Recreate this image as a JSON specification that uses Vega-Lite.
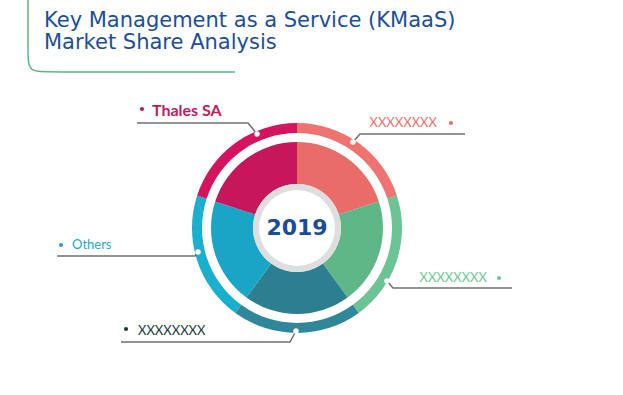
{
  "$schema": "https://vega.github.io/schema/vega-lite/v6.json",
  "width": 594,
  "height": 334,
  "autosize": "none",
  "padding": {"left": 0, "top": 61, "right": 29, "bottom": 0},
  "background": "white",
  "config": {"view": {"stroke": null}},
  "datasets": {
    "shares": [
      {"idx": 1, "segment": "Company 1", "share": 20},
      {"idx": 2, "segment": "Company 2", "share": 20},
      {"idx": 3, "segment": "Company 3", "share": 20},
      {"idx": 4, "segment": "Others", "share": 20},
      {"idx": 5, "segment": "Thales SA", "share": 20}
    ],
    "leaders": [
      {"segment": "Thales SA", "ord": 1, "x": -160, "y": -105},
      {"segment": "Thales SA", "ord": 2, "x": -49, "y": -105},
      {"segment": "Thales SA", "ord": 3, "x": -40, "y": -94},
      {"segment": "Company 1", "ord": 1, "x": 56, "y": -86},
      {"segment": "Company 1", "ord": 2, "x": 63, "y": -94},
      {"segment": "Company 1", "ord": 3, "x": 168, "y": -94},
      {"segment": "Company 2", "ord": 1, "x": 90, "y": 53},
      {"segment": "Company 2", "ord": 2, "x": 96, "y": 60},
      {"segment": "Company 2", "ord": 3, "x": 215, "y": 60},
      {"segment": "Company 3", "ord": 1, "x": -176, "y": 114},
      {"segment": "Company 3", "ord": 2, "x": -7, "y": 114},
      {"segment": "Company 3", "ord": 3, "x": -1, "y": 103},
      {"segment": "Others", "ord": 1, "x": -240, "y": 28},
      {"segment": "Others", "ord": 2, "x": -102, "y": 28},
      {"segment": "Others", "ord": 3, "x": -99, "y": 24}
    ],
    "ringDots": [
      {"segment": "Thales SA", "x": -40, "y": -94},
      {"segment": "Company 1", "x": 56, "y": -86},
      {"segment": "Company 2", "x": 90, "y": 53},
      {"segment": "Company 3", "x": -1, "y": 103},
      {"segment": "Others", "x": -99, "y": 24}
    ],
    "labels": [
      {"segment": "Thales SA", "text": "Thales SA", "side": "left", "bx": -155, "by": -119, "x": -145, "y": -112},
      {"segment": "Company 1", "text": "XXXXXXXX", "side": "right", "bx": 154, "by": -105, "x": 140, "y": -101},
      {"segment": "Company 2", "text": "XXXXXXXX", "side": "right", "bx": 202, "by": 50, "x": 190, "y": 54},
      {"segment": "Company 3", "text": "XXXXXXXX", "side": "left", "bx": -171, "by": 101, "x": -159, "y": 107},
      {"segment": "Others", "text": "Others", "side": "left", "bx": -236, "by": 17, "x": -225, "y": 21}
    ],
    "frameLine": [
      {"ord": 1, "x": -269, "y": -228},
      {"ord": 2, "x": -269, "y": -176},
      {"ord": 3, "x": -269, "y": -156},
      {"ord": 4, "x": -249, "y": -156},
      {"ord": 5, "x": -62, "y": -156}
    ]
  },
  "resolve": {"scale": {"color": "independent"}},
  "layer": [
    {
      "data": {"name": "frameLine"},
      "mark": {"type": "line", "interpolate": "basis", "color": "#5cb887", "strokeWidth": 1.5},
      "encoding": {
        "x": {"field": "x", "type": "quantitative", "scale": {"domain": [-297, 297]}, "axis": null},
        "y": {"field": "y", "type": "quantitative", "scale": {"domain": [-167, 167], "reverse": true}, "axis": null},
        "order": {"field": "ord"}
      }
    },
    {
      "data": {"values": [{}]},
      "mark": {"type": "text", "font": "DejaVu Sans", "fontSize": 21, "color": "#1d4e9c", "align": "left", "baseline": "alphabetic", "lineHeight": 22},
      "encoding": {
        "x": {"datum": -253, "type": "quantitative", "scale": {"domain": [-297, 297]}, "axis": null},
        "y": {"datum": -201, "type": "quantitative", "scale": {"domain": [-167, 167], "reverse": true}, "axis": null},
        "text": {"value": ["Key Management as a Service (KMaaS)", "Market Share Analysis"]}
      }
    },
    {
      "data": {"name": "shares"},
      "mark": {"type": "arc", "innerRadius": 95, "outerRadius": 105},
      "encoding": {
        "theta": {"field": "share", "type": "quantitative", "stack": true},
        "order": {"field": "idx"},
        "color": {
          "field": "segment", "type": "nominal", "legend": null,
          "scale": {"domain": ["Company 1", "Company 2", "Company 3", "Others", "Thales SA"],
                    "range": ["#ef7471", "#6cc495", "#2f8799", "#1aaecf", "#d5145f"]}
        }
      }
    },
    {
      "data": {"name": "shares"},
      "mark": {"type": "arc", "innerRadius": 44, "outerRadius": 86},
      "encoding": {
        "theta": {"field": "share", "type": "quantitative", "stack": true},
        "order": {"field": "idx"},
        "color": {
          "field": "segment", "type": "nominal", "legend": null,
          "scale": {"domain": ["Company 1", "Company 2", "Company 3", "Others", "Thales SA"],
                    "range": ["#e96c69", "#5fb687", "#2b7f8f", "#18a5c6", "#c6175d"]}
        }
      }
    },
    {
      "data": {"values": [{}]},
      "mark": {"type": "arc", "theta": 0, "theta2": 6.2832, "innerRadius": 0, "outerRadius": 44, "fill": "#dedede"},
      "encoding": {}
    },
    {
      "data": {"values": [{}]},
      "mark": {"type": "arc", "theta": 0, "theta2": 6.2832, "innerRadius": 0, "outerRadius": 38, "fill": "#ffffff"},
      "encoding": {}
    },
    {
      "data": {"values": [{"year": "2019"}]},
      "mark": {"type": "text", "font": "DejaVu Sans", "fontWeight": "bold", "fontSize": 22, "color": "#1a4c9c", "baseline": "middle", "align": "center"},
      "encoding": {
        "x": {"datum": 0, "type": "quantitative", "scale": {"domain": [-297, 297]}, "axis": null},
        "y": {"datum": 0, "type": "quantitative", "scale": {"domain": [-167, 167], "reverse": true}, "axis": null},
        "text": {"field": "year"}
      }
    },
    {
      "data": {"name": "leaders"},
      "mark": {"type": "line", "color": "#707070", "strokeWidth": 1.5},
      "encoding": {
        "x": {"field": "x", "type": "quantitative", "scale": {"domain": [-297, 297]}, "axis": null},
        "y": {"field": "y", "type": "quantitative", "scale": {"domain": [-167, 167], "reverse": true}, "axis": null},
        "detail": {"field": "segment"},
        "order": {"field": "ord"}
      }
    },
    {
      "data": {"name": "ringDots"},
      "mark": {"type": "point", "filled": true, "shape": "circle", "size": 30, "color": "#ffffff", "opacity": 1},
      "encoding": {
        "x": {"field": "x", "type": "quantitative", "scale": {"domain": [-297, 297]}, "axis": null},
        "y": {"field": "y", "type": "quantitative", "scale": {"domain": [-167, 167], "reverse": true}, "axis": null}
      }
    },
    {
      "data": {"name": "labels"},
      "mark": {"type": "point", "filled": true, "shape": "circle", "size": 18, "opacity": 1},
      "encoding": {
        "x": {"field": "bx", "type": "quantitative", "scale": {"domain": [-297, 297]}, "axis": null},
        "y": {"field": "by", "type": "quantitative", "scale": {"domain": [-167, 167], "reverse": true}, "axis": null},
        "color": {
          "field": "segment", "type": "nominal", "legend": null,
          "scale": {"domain": ["Company 1", "Company 2", "Company 3", "Others", "Thales SA"],
                    "range": ["#ef6f6c", "#6fc79a", "#1a3a3f", "#24a9c9", "#c8175e"]}
        }
      }
    },
    {
      "data": {"name": "labels"},
      "transform": [{"filter": "datum.side === 'left' && datum.segment !== 'Thales SA'"}],
      "mark": {"type": "text", "font": "Lato", "fontSize": 13, "align": "left", "baseline": "alphabetic"},
      "encoding": {
        "x": {"field": "x", "type": "quantitative", "scale": {"domain": [-297, 297]}, "axis": null},
        "y": {"field": "y", "type": "quantitative", "scale": {"domain": [-167, 167], "reverse": true}, "axis": null},
        "text": {"field": "text"},
        "color": {
          "field": "segment", "type": "nominal", "legend": null,
          "scale": {"domain": ["Company 1", "Company 2", "Company 3", "Others", "Thales SA"],
                    "range": ["#ef6f6c", "#6fc79a", "#1a3a3f", "#24a9c9", "#c8175e"]}
        }
      }
    },
    {
      "data": {"name": "labels"},
      "transform": [{"filter": "datum.side === 'right'"}],
      "mark": {"type": "text", "font": "Lato", "fontSize": 13, "align": "right", "baseline": "alphabetic"},
      "encoding": {
        "x": {"field": "x", "type": "quantitative", "scale": {"domain": [-297, 297]}, "axis": null},
        "y": {"field": "y", "type": "quantitative", "scale": {"domain": [-167, 167], "reverse": true}, "axis": null},
        "text": {"field": "text"},
        "color": {
          "field": "segment", "type": "nominal", "legend": null,
          "scale": {"domain": ["Company 1", "Company 2", "Company 3", "Others", "Thales SA"],
                    "range": ["#ef6f6c", "#6fc79a", "#1a3a3f", "#24a9c9", "#c8175e"]}
        }
      }
    },
    {
      "data": {"name": "labels"},
      "transform": [{"filter": "datum.segment === 'Thales SA'"}],
      "mark": {"type": "text", "font": "Lato", "fontSize": 16, "fontWeight": "bold", "align": "left", "baseline": "alphabetic", "color": "#c8175e"},
      "encoding": {
        "x": {"field": "x", "type": "quantitative", "scale": {"domain": [-297, 297]}, "axis": null},
        "y": {"field": "y", "type": "quantitative", "scale": {"domain": [-167, 167], "reverse": true}, "axis": null},
        "text": {"field": "text"}
      }
    }
  ]
}
